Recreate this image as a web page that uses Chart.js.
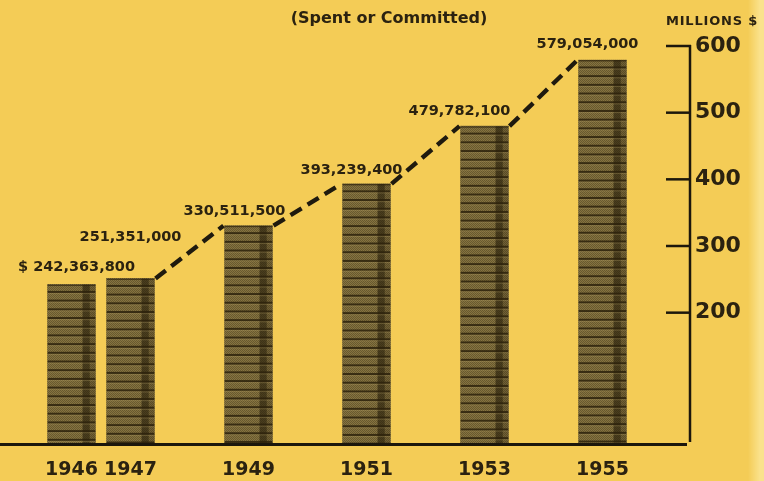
<!DOCTYPE html>
<html>
<head>
<meta charset="utf-8">
<script src="https://cdn.jsdelivr.net/npm/chart.js@4.4.1/dist/chart.umd.min.js"></script>
<style>
  html, body { margin: 0; padding: 0; background: #f4cc56; }
  #wrap { width: 764px; height: 481px; }
</style>
</head>
<body>
<div id="wrap"><canvas id="c" width="764" height="481"></canvas></div>
<script>
// Expenditures by year (dollars), spent or committed
const years = [1946, 1947, 1949, 1951, 1953, 1955];
const amounts = [242363800, 251351000, 330511500, 393239400, 479782100, 579054000];
const axisTicks = [200, 300, 400, 500, 600];

// Stack heights in millions of dollars
const millions = amounts.map(a => a / 1e6);
// Printed figures above each stack
const amountLabels = amounts.map((a, i) => (i === 0 ? '$ ' : '') + a.toLocaleString('en-US'));
// Small per-label nudges (px) so the figures clear the dashed trend line
const labelNudgeX = [5, 0, -14, -15, -25, -15];
const labelLift = [17, 41, 14, 14, 15, 16];

const INK = '#2b2210';
const PAPER = '#f4cc56';
const FONT = '"DejaVu Sans", sans-serif';

// Fine checker fill for the coin stacks
function coinPattern() {
  const p = document.createElement('canvas');
  p.width = 2; p.height = 2;
  const g = p.getContext('2d');
  g.fillStyle = '#86743f'; g.fillRect(0, 0, 2, 2);
  g.fillStyle = '#675830'; g.fillRect(0, 0, 1, 1); g.fillRect(1, 1, 1, 1);
  return p;
}

const ctx0 = document.getElementById('c').getContext('2d');
const fill = ctx0.createPattern(coinPattern(), 'repeat');

const backdrop = {
  id: 'backdrop',
  beforeDraw(chart) {
    const c = chart.ctx;
    c.save();
    c.fillStyle = PAPER;
    c.fillRect(0, 0, chart.width, chart.height);
    const g = c.createLinearGradient(748, 0, 760, 0);
    g.addColorStop(0, 'rgba(250,226,140,0)');
    g.addColorStop(1, 'rgba(250,226,140,1)');
    c.fillStyle = g;
    c.fillRect(748, 0, chart.width - 748, chart.height);
    c.restore();
  }
};

// Coin rims and the shaded side of every stack
const coinDetail = {
  id: 'coinDetail',
  afterDatasetsDraw(chart) {
    const c = chart.ctx;
    chart.getDatasetMeta(0).data.forEach(bar => {
      const left = bar.x - bar.width / 2, w = bar.width;
      const top = bar.y, h = bar.base - bar.y;
      c.save();
      c.beginPath(); c.rect(left, top, w, h); c.clip();
      // dark shaded column near the right side
      c.fillStyle = 'rgba(35,26,8,0.6)';
      c.fillRect(left + w * 0.73, top, w * 0.15, h);
      c.fillStyle = 'rgba(35,26,8,0.2)';
      c.fillRect(left + w * 0.88, top, w * 0.12, h);
      // coin rims
      const step = 8.7;
      for (let y = top; y < bar.base; y += step) {
        c.fillStyle = 'rgba(45,34,12,0.85)';
        c.fillRect(left, y + step - 2.2, w, 2);
        c.fillStyle = 'rgba(175,155,100,0.3)';
        c.fillRect(left, y + step - 0.2, w, 1.2);
      }
      c.fillStyle = 'rgba(45,34,12,0.7)';
      c.fillRect(left, top, w, 1.5);
      c.restore();
    });
  }
};

// Dashed line joining the tops of consecutive stacks from 1947 on
const trendLine = {
  id: 'trendLine',
  afterDatasetsDraw(chart) {
    const c = chart.ctx;
    const bars = chart.getDatasetMeta(0).data;
    c.save();
    c.strokeStyle = '#1f1a0e';
    c.lineWidth = 4.4;
    c.setLineDash([13, 7]);
    c.lineCap = 'butt';
    for (let i = 1; i < bars.length - 1; i++) {
      const a = bars[i], b = bars[i + 1];
      c.beginPath();
      c.moveTo(a.x + a.width / 2 + 1, a.y);
      c.lineTo(b.x - b.width / 2 - 1, b.y);
      c.stroke();
    }
    c.restore();
  }
};

// Base line, right-hand axis rule and its inward tick marks
const axisRules = {
  id: 'axisRules',
  afterDraw(chart) {
    const c = chart.ctx, ys = chart.scales.y, area = chart.chartArea;
    const zero = ys.getPixelForValue(0);
    c.save();
    c.fillStyle = '#1c170c';
    c.fillRect(0, zero - 3, area.right - 3, 3);
    c.strokeStyle = '#1c170c';
    c.lineWidth = 2.5;
    c.beginPath();
    c.moveTo(area.right, ys.getPixelForValue(600) - 1);
    c.lineTo(area.right, zero - 4);
    c.stroke();
    axisTicks.forEach(v => {
      const y = ys.getPixelForValue(v);
      c.beginPath();
      c.moveTo(area.right - 24, y);
      c.lineTo(area.right + 1, y);
      c.stroke();
    });
    c.restore();
  }
};

// Headline, unit caption and the dollar figures above the stacks
const captions = {
  id: 'captions',
  afterDraw(chart) {
    const c = chart.ctx;
    c.save();
    c.fillStyle = INK;
    c.textAlign = 'center';
    c.textBaseline = 'middle';
    c.font = 'bold 16px ' + FONT;
    c.fillText('(Spent or Committed)', 389, 19);
    c.textAlign = 'left';
    c.font = 'bold 13px ' + FONT;
    c.letterSpacing = '0.8px';
    c.fillText('MILLIONS $', 666, 22);
    c.letterSpacing = '0px';
    c.textAlign = 'center';
    c.font = 'bold 14.5px ' + FONT;
    chart.getDatasetMeta(0).data.forEach((bar, i) => {
      c.fillText(amountLabels[i], bar.x + labelNudgeX[i], bar.y - labelLift[i]);
    });
    c.restore();
  }
};

new Chart(ctx0, {
  type: 'bar',
  data: {
    datasets: [{
      data: years.map((yr, i) => ({ x: yr, y: millions[i] })),
      backgroundColor: fill,
      borderWidth: 0,
      barThickness: 48
    }]
  },
  options: {
    responsive: false,
    animation: false,
    devicePixelRatio: 1,
    layout: { padding: { top: 46, right: 0, bottom: 0, left: 0 } },
    plugins: { legend: { display: false }, tooltip: { enabled: false } },
    scales: {
      x: {
        type: 'linear',
        offset: false,
        min: 1944.788,
        max: 1956.483,
        afterBuildTicks: s => { s.ticks = years.map(v => ({ value: v })); },
        afterFit: s => { s.height = 35; },
        grid: { display: false, drawTicks: false },
        border: { display: false },
        ticks: {
          autoSkip: false,
          maxRotation: 0,
          padding: 13,
          color: INK,
          font: { family: FONT, size: 19, weight: 'bold' },
          callback: v => String(v)
        }
      },
      y: {
        position: 'right',
        min: 0,
        max: 600,
        afterBuildTicks: s => { s.ticks = axisTicks.map(v => ({ value: v })); },
        afterFit: s => { s.width = 74; },
        grid: { display: false, drawTicks: false },
        border: { display: false },
        ticks: {
          padding: 5,
          color: INK,
          font: { family: FONT, size: 22, weight: 'bold' },
          callback: v => String(v)
        }
      }
    }
  },
  plugins: [backdrop, coinDetail, trendLine, axisRules, captions]
});
</script>
</body>
</html>
